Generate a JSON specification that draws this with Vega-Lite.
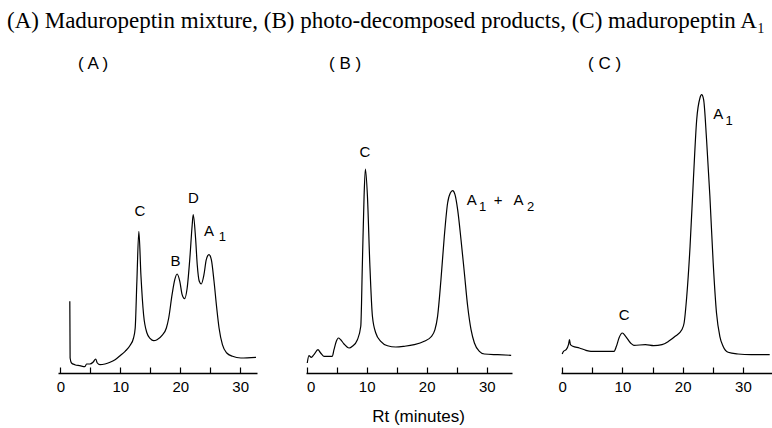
{
  "$schema": "https://vega.github.io/schema/vega-lite/v6.json",
  "padding": {"left": 2, "top": 10, "right": 0, "bottom": 0},
  "background": "white",
  "bounds": "flush",
  "title": {"text": "(A) Maduropeptin mixture, (B) photo-decomposed products, (C) maduropeptin A₁", "font": "Liberation Serif", "fontSize": 23, "fontWeight": "normal", "color": "black", "anchor": "start", "dx": -51, "offset": 22},
  "config": {
    "view": {"stroke": null},
    "axis": {"grid": false, "domainColor": "black", "tickColor": "black", "domainWidth": 1.3, "tickWidth": 1.2, "labelFont": "Liberation Sans", "labelFontSize": 15, "labelColor": "black", "titleFont": "Liberation Sans", "titleFontSize": 17, "titleFontWeight": "normal", "titleColor": "black"},
    "title": {"font": "Liberation Sans", "fontSize": 17, "fontWeight": "normal", "color": "black", "anchor": "start", "offset": 10, "frame": "group"}
  },
  "datasets": {
    "a": [
      {"t":1.57,"h":71.7},{"t":1.62,"h":15},{"t":1.85,"h":10},{"t":2.41,"h":8.3},{"t":3.25,"h":7.3},{"t":4.09,"h":6.3},{"t":4.36,"h":9},{"t":4.92,"h":9},{"t":5.48,"h":11},{"t":5.88,"h":14},{"t":6.16,"h":10},{"t":6.6,"h":8.3},{"t":7.44,"h":9},{"t":8.28,"h":10.7},{"t":9.12,"h":13.3},{"t":9.96,"h":17.3},{"t":10.8,"h":21.7},{"t":11.64,"h":27.7},{"t":12.2,"h":35},{"t":12.48,"h":45},{"t":12.76,"h":91.7},{"t":13.09,"h":141.7},{"t":13.43,"h":98.3},{"t":13.88,"h":58.3},{"t":14.44,"h":40},{"t":15,"h":34.3},{"t":15.56,"h":32.3},{"t":16.12,"h":33.3},{"t":16.96,"h":37.7},{"t":17.68,"h":45},{"t":18.07,"h":55},{"t":18.63,"h":78.3},{"t":19.08,"h":93.3},{"t":19.47,"h":99},{"t":19.92,"h":91.7},{"t":20.31,"h":78.3},{"t":20.71,"h":74.3},{"t":21.15,"h":85},{"t":21.6,"h":115},{"t":21.99,"h":148.3},{"t":22.16,"h":158.3},{"t":22.55,"h":135},{"t":22.83,"h":108.3},{"t":23.17,"h":91.7},{"t":23.5,"h":89},{"t":23.95,"h":98.3},{"t":24.34,"h":113.3},{"t":24.79,"h":118.3},{"t":25.18,"h":113.3},{"t":25.63,"h":91.7},{"t":26.08,"h":65},{"t":26.47,"h":45},{"t":27.03,"h":28.3},{"t":27.76,"h":20},{"t":28.71,"h":16.7},{"t":30.11,"h":15},{"t":32.63,"h":15.7}
    ],
    "b": [
      {"t":0.11,"h":10},{"t":0.39,"h":17.3},{"t":0.78,"h":15.7},{"t":1.22,"h":18.3},{"t":1.89,"h":23.3},{"t":2.34,"h":20},{"t":2.89,"h":16.7},{"t":4.28,"h":16.7},{"t":4.56,"h":23.3},{"t":4.95,"h":31.7},{"t":5.29,"h":35},{"t":5.68,"h":33.3},{"t":6.23,"h":29},{"t":7.07,"h":25},{"t":7.62,"h":26.7},{"t":8.46,"h":33.3},{"t":9.02,"h":46.7},{"t":9.29,"h":110},{"t":9.57,"h":176.7},{"t":9.79,"h":204},{"t":10.13,"h":176.7},{"t":10.52,"h":110},{"t":10.96,"h":56.7},{"t":11.52,"h":40},{"t":12.35,"h":31.7},{"t":13.47,"h":27.3},{"t":14.86,"h":26},{"t":16.25,"h":26.7},{"t":17.92,"h":28.3},{"t":19.59,"h":31.7},{"t":20.7,"h":36},{"t":21.37,"h":43.3},{"t":21.81,"h":56.7},{"t":22.37,"h":93.3},{"t":22.93,"h":136.7},{"t":23.48,"h":170},{"t":23.93,"h":180},{"t":24.32,"h":182.3},{"t":24.71,"h":178.3},{"t":25.15,"h":163.3},{"t":25.71,"h":133.3},{"t":26.27,"h":100},{"t":26.82,"h":66.7},{"t":27.38,"h":43.3},{"t":27.94,"h":30},{"t":28.77,"h":21.7},{"t":29.6,"h":19},{"t":31.83,"h":18.3},{"t":34.06,"h":17.7}
    ],
    "c": [
      {"t":0,"h":19},{"t":0.22,"h":21.7},{"t":0.66,"h":23.3},{"t":1.04,"h":28.3},{"t":1.21,"h":33.3},{"t":1.37,"h":28.3},{"t":1.76,"h":26.7},{"t":2.85,"h":25},{"t":3.95,"h":22.7},{"t":4.77,"h":21.7},{"t":6.69,"h":21.7},{"t":8.61,"h":21.7},{"t":9.0,"h":26.7},{"t":9.43,"h":35},{"t":9.98,"h":40},{"t":10.53,"h":36.7},{"t":11.35,"h":30},{"t":11.9,"h":27.7},{"t":13.82,"h":28.3},{"t":15.19,"h":27.3},{"t":16.57,"h":28.3},{"t":17.66,"h":31.7},{"t":18.76,"h":36.7},{"t":19.86,"h":43.3},{"t":20.24,"h":50},{"t":20.68,"h":76.7},{"t":21.23,"h":126.7},{"t":21.78,"h":193.3},{"t":22.33,"h":253.3},{"t":22.87,"h":275},{"t":23.15,"h":278.3},{"t":23.48,"h":273.3},{"t":23.97,"h":233.3},{"t":24.52,"h":176.7},{"t":25.07,"h":110},{"t":25.62,"h":60},{"t":26.17,"h":36.7},{"t":26.71,"h":26.7},{"t":27.54,"h":20.7},{"t":29.18,"h":19},{"t":31.38,"h":18.3},{"t":34.45,"h":18.3}
    ],
    "la": [
      {"t":13.26,"h":162,"label":"C","role":"main"},{"t":19.2,"h":112,"label":"B","role":"main"},{"t":22.2,"h":175,"label":"D","role":"main"},{"t":24.8,"h":142,"label":"A","role":"main"},{"t":27.0,"h":136,"label":"1","role":"sub"}
    ],
    "lb": [
      {"t":9.73,"h":221,"label":"C","role":"main"},{"t":27.5,"h":173,"label":"A","role":"main"},{"t":29.3,"h":166,"label":"1","role":"sub"},{"t":31.9,"h":173,"label":"+","role":"main"},{"t":35.3,"h":173,"label":"A","role":"main"},{"t":37.3,"h":166,"label":"2","role":"sub"}
    ],
    "lc": [
      {"t":10.3,"h":58,"label":"C","role":"main"},{"t":25.9,"h":259,"label":"A","role":"main"},{"t":27.7,"h":252,"label":"1","role":"sub"}
    ]
  },
  "hconcat": [
    {
      "width": 199, "height": 290,
      "title": {"text": "( A )", "dx": 20},
      "encoding": {
        "x": {"field": "t", "type": "quantitative", "scale": {"domain": [-0.4, 32.8], "nice": false, "zero": false}, "axis": {"values": [0,5,10,15,20,25,30], "labelExpr": "datum.value % 10 === 0 ? datum.label : ''", "tickSize": -6, "labelPadding": 12.5, "title": null}},
        "y": {"field": "h", "type": "quantitative", "scale": {"domain": [0, 290], "nice": false}, "axis": {"offset": 56, "domainOpacity": 0, "ticks": false, "labels": false, "title": null}}
      },
      "layer": [
        {"data": {"name": "a"}, "mark": {"type": "line", "color": "black", "strokeWidth": 1.2, "interpolate": "monotone"}},
        {"data": {"name": "la"}, "transform": [{"filter": "datum.role === 'main'"}], "mark": {"type": "text", "font": "Liberation Sans", "fontSize": 15, "color": "black", "baseline": "middle"}, "encoding": {"text": {"field": "label"}}},
        {"data": {"name": "la"}, "transform": [{"filter": "datum.role === 'sub'"}], "mark": {"type": "text", "font": "Liberation Sans", "fontSize": 13, "color": "black", "baseline": "middle"}, "encoding": {"text": {"field": "label"}}}
      ]
    },
    {
      "width": 206, "height": 290,
      "title": {"text": "( B )", "dx": 23},
      "encoding": {
        "x": {"field": "t", "type": "quantitative", "scale": {"domain": [-0.1, 34.2], "nice": false, "zero": false}, "axis": {"values": [0,5,10,15,20,25,30], "labelExpr": "datum.value % 10 === 0 ? datum.label : ''", "tickSize": -6, "labelPadding": 12.5, "title": "Rt (minutes)", "titlePadding": 14, "titleX": 112}},
        "y": {"field": "h", "type": "quantitative", "scale": {"domain": [0, 290], "nice": false}, "axis": null}
      },
      "layer": [
        {"data": {"name": "b"}, "mark": {"type": "line", "color": "black", "strokeWidth": 1.2, "interpolate": "monotone"}},
        {"data": {"name": "lb"}, "transform": [{"filter": "datum.role === 'main'"}], "mark": {"type": "text", "font": "Liberation Sans", "fontSize": 15, "color": "black", "baseline": "middle"}, "encoding": {"text": {"field": "label"}}},
        {"data": {"name": "lb"}, "transform": [{"filter": "datum.role === 'sub'"}], "mark": {"type": "text", "font": "Liberation Sans", "fontSize": 13, "color": "black", "baseline": "middle"}, "encoding": {"text": {"field": "label"}}}
      ]
    },
    {
      "width": 212, "height": 290,
      "title": {"text": "( C )", "dx": 27},
      "encoding": {
        "x": {"field": "t", "type": "quantitative", "scale": {"domain": [-0.2, 35], "nice": false, "zero": false}, "axis": {"values": [0,5,10,15,20,25,30,35], "labelExpr": "datum.value % 10 === 0 ? datum.label : ''", "tickSize": -6, "labelPadding": 12.5, "title": null}},
        "y": {"field": "h", "type": "quantitative", "scale": {"domain": [0, 290], "nice": false}, "axis": null}
      },
      "layer": [
        {"data": {"name": "c"}, "mark": {"type": "line", "color": "black", "strokeWidth": 1.2, "interpolate": "monotone"}},
        {"data": {"name": "lc"}, "transform": [{"filter": "datum.role === 'main'"}], "mark": {"type": "text", "font": "Liberation Sans", "fontSize": 15, "color": "black", "baseline": "middle"}, "encoding": {"text": {"field": "label"}}},
        {"data": {"name": "lc"}, "transform": [{"filter": "datum.role === 'sub'"}], "mark": {"type": "text", "font": "Liberation Sans", "fontSize": 13, "color": "black", "baseline": "middle"}, "encoding": {"text": {"field": "label"}}}
      ]
    }
  ],
  "spacing": 49
}
